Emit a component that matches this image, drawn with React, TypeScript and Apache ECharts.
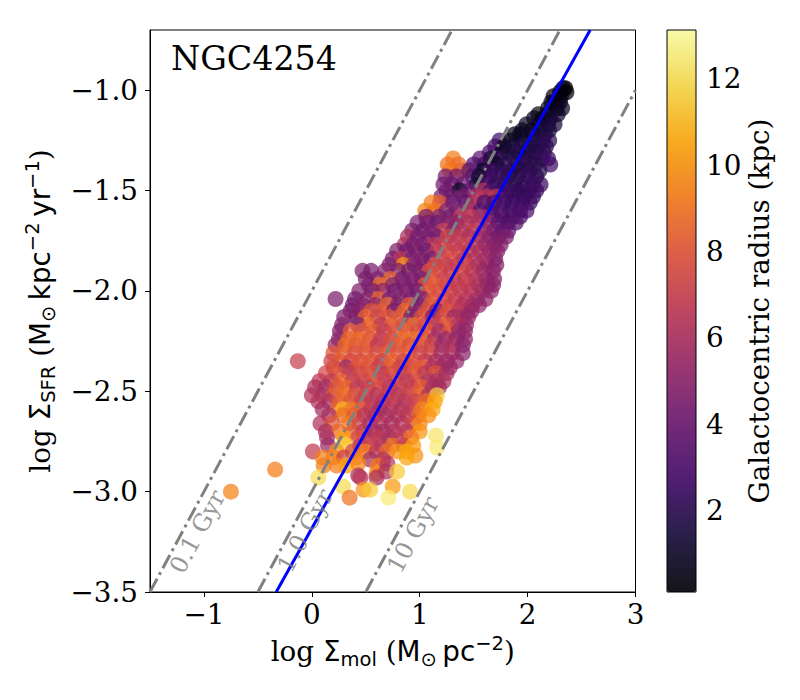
import React, { useEffect, useRef } from "react";
import * as echarts from "echarts";

// ---------- axis ranges & ticks ----------
const xRange = [-1.5, 3];
const yRange = [-3.5, -0.7];
const xTicks = [-1, 0, 1, 2, 3];
const yTicks = [-3.5, -3, -2.5, -2, -1.5, -1];
const radiusRange = [0.12, 13.13];
const cbarTicks = [2, 4, 6, 8, 10, 12];

// ---------- reference lines (depletion times) and fit ----------
const tau01Line = [[-1.5, -3.5], [1.3, -0.7]];
const tau1Line = [[-0.5, -3.5], [2.3, -0.7]];
const tau10Line = [[0.5, -3.5], [3.0, -1.0]];
const fitLine = [[-0.33, -3.5], [2.58, -0.7]];
const tauLabels = [
  [-1.06, -3.20, "0.1 Gyr"],
  [-0.06, -3.195, "1.0 Gyr"],
  [0.94, -3.215, "10 Gyr"],
];

// ---------- cells: [log Σmol, log ΣSFR, radius kpc] ----------
const upperCells = [
  [2.33,-0.99,0.3],[2.35,-0.99,0.2],
  [2.30,-1.01,0.3],[2.36,-1.01,0.3],
  [2.24,-1.03,0.4],[2.31,-1.03,0.4],
  [2.22,-1.06,0.5],[2.26,-1.06,0.4],[2.30,-1.06,0.5],
  [2.19,-1.09,0.6],[2.27,-1.09,0.6],[2.32,-1.09,0.9],
  [2.10,-1.12,0.7],[2.18,-1.12,0.6],[2.28,-1.12,1.0],
  [2.06,-1.14,0.7],[2.14,-1.14,0.6],[2.21,-1.14,1.1],
  [1.99,-1.17,0.9],[2.11,-1.17,0.8],[2.19,-1.17,1.2],[2.25,-1.17,1.6],
  [1.95,-1.20,0.8],[2.04,-1.20,0.6],[2.12,-1.20,1.1],[2.20,-1.20,1.7],
  [1.88,-1.22,0.6],[1.93,-1.22,0.8],[2.05,-1.22,1.3],[2.16,-1.22,1.5],
  [1.74,-1.25,2.8],[1.84,-1.25,0.7],[1.96,-1.25,1.0],[2.06,-1.25,1.6],[2.14,-1.25,1.8],[2.20,-1.25,2.0],
  [1.70,-1.28,2.6],[1.78,-1.28,0.9],[1.86,-1.28,1.3],[1.94,-1.28,1.7],[2.02,-1.28,1.6],[2.10,-1.28,1.8],[2.17,-1.28,2.1],
  [1.65,-1.31,3.0],[1.76,-1.31,1.0],[1.82,-1.31,1.4],[1.91,-1.31,1.9],[1.99,-1.31,1.7],[2.07,-1.31,1.6],[2.15,-1.31,2.0],
  [1.31,-1.34,9.3],[1.56,-1.34,3.6],[1.66,-1.34,1.2],[1.73,-1.34,2.2],[1.87,-1.34,1.6],[1.96,-1.34,1.4],[2.04,-1.34,1.9],[2.13,-1.34,2.2],[2.19,-1.34,2.5],
  [1.26,-1.37,9.0],[1.36,-1.37,8.8],[1.50,-1.37,3.2],[1.60,-1.37,2.4],[1.71,-1.37,0.9],[1.79,-1.37,2.0],[1.90,-1.37,1.8],[1.98,-1.37,2.1],[2.07,-1.37,1.8],[2.21,-1.37,2.7],
  [1.28,-1.40,9.2],[1.39,-1.40,8.5],[1.46,-1.40,3.4],[1.59,-1.40,1.0],[1.66,-1.40,2.6],[1.76,-1.40,1.9],[1.85,-1.40,2.2],[1.94,-1.40,1.7],[2.02,-1.40,2.0],[2.11,-1.40,1.9],
  [1.24,-1.43,4.4],[1.34,-1.43,4.2],[1.49,-1.43,3.5],[1.55,-1.43,1.2],[1.65,-1.43,2.3],[1.72,-1.43,2.5],[1.82,-1.43,2.0],[1.91,-1.43,1.9],[2.00,-1.43,2.3],[2.08,-1.43,2.2],
  [1.22,-1.47,4.3],[1.30,-1.47,4.0],[1.40,-1.47,3.8],[1.53,-1.47,1.3],[1.61,-1.47,2.8],[1.70,-1.47,2.2],[1.79,-1.47,2.4],[1.88,-1.47,2.0],[1.96,-1.47,2.1],[2.05,-1.47,2.4],[2.12,-1.47,2.3],
  [1.25,-1.50,4.2],[1.37,-1.50,0.8],[1.46,-1.50,3.7],[1.59,-1.50,6.4],[1.66,-1.50,2.9],[1.75,-1.50,2.3],[1.84,-1.50,2.5],[1.92,-1.50,2.1],[2.01,-1.50,2.3],[2.08,-1.50,2.6],
  [1.20,-1.53,4.3],[1.29,-1.53,4.1],[1.40,-1.53,4.4],[1.52,-1.53,6.2],[1.62,-1.53,6.5],[1.71,-1.53,6.8],[1.80,-1.53,2.6],[1.89,-1.53,2.4],[1.97,-1.53,2.2],[2.05,-1.53,2.5],
  [1.11,-1.56,9.4],[1.19,-1.56,8.3],[1.31,-1.56,4.0],[1.43,-1.56,3.6],[1.50,-1.56,6.2],[1.60,-1.56,3.0],[1.69,-1.56,3.0],[1.78,-1.56,2.7],[1.86,-1.56,2.4],[1.95,-1.56,2.6],[2.02,-1.56,2.5],
  [1.05,-1.60,9.5],[1.14,-1.60,9.0],[1.25,-1.60,4.5],[1.35,-1.60,4.6],[1.46,-1.60,6.0],[1.56,-1.60,3.2],[1.66,-1.60,2.9],[1.75,-1.60,3.0],[1.84,-1.60,2.6],[1.93,-1.60,2.8],[1.99,-1.60,2.9],
];

const middleCells = [
  [1.06,-1.63,4.4],[1.18,-1.63,4.6],[1.28,-1.63,4.3],[1.38,-1.63,6.6],[1.48,-1.63,6.8],[1.58,-1.63,5.8],[1.68,-1.63,3.2],[1.77,-1.63,3.3],[1.86,-1.63,2.9],[1.93,-1.63,3.0],
  [0.98,-1.66,4.5],[1.07,-1.66,4.4],[1.16,-1.66,4.0],[1.26,-1.66,4.9],[1.34,-1.66,5.0],[1.44,-1.66,6.1],[1.54,-1.66,6.0],[1.64,-1.66,5.5],[1.73,-1.66,3.3],[1.82,-1.66,3.0],[1.89,-1.66,3.3],
  [0.93,-1.70,4.6],[1.03,-1.70,4.0],[1.12,-1.70,4.5],[1.22,-1.70,7.0],[1.31,-1.70,4.8],[1.40,-1.70,6.3],[1.50,-1.70,6.9],[1.60,-1.70,5.2],[1.69,-1.70,4.5],[1.77,-1.70,3.5],[1.82,-1.70,3.7],
  [0.89,-1.73,6.0],[0.98,-1.73,4.4],[1.07,-1.73,4.6],[1.16,-1.73,4.2],[1.26,-1.73,7.2],[1.36,-1.73,6.8],[1.46,-1.73,6.0],[1.56,-1.73,5.6],[1.65,-1.73,4.9],[1.73,-1.73,4.2],[1.80,-1.73,4.6],
  [0.86,-1.77,6.2],[0.94,-1.77,4.3],[1.03,-1.77,4.5],[1.13,-1.77,6.5],[1.23,-1.77,7.0],[1.32,-1.77,6.6],[1.42,-1.77,7.1],[1.52,-1.77,6.4],[1.61,-1.77,5.3],[1.69,-1.77,4.8],[1.75,-1.77,4.7],
  [0.79,-1.80,4.5],[0.88,-1.80,4.2],[0.97,-1.80,4.6],[1.06,-1.80,4.0],[1.16,-1.80,6.8],[1.26,-1.80,7.4],[1.36,-1.80,6.9],[1.46,-1.80,6.5],[1.56,-1.80,6.0],[1.65,-1.80,5.4],[1.72,-1.80,4.9],
  [0.75,-1.84,4.4],[0.82,-1.84,6.6],[0.93,-1.84,4.4],[1.02,-1.84,4.8],[1.11,-1.84,4.3],[1.21,-1.84,7.3],[1.31,-1.84,7.8],[1.41,-1.84,6.7],[1.51,-1.84,6.2],[1.61,-1.84,5.8],[1.70,-1.84,5.0],
  [0.72,-1.87,4.6],[0.85,-1.87,9.8],[0.95,-1.87,4.7],[1.04,-1.87,4.5],[1.14,-1.87,7.6],[1.24,-1.87,7.0],[1.34,-1.87,6.8],[1.44,-1.87,7.2],[1.54,-1.87,6.1],[1.63,-1.87,5.6],[1.71,-1.87,4.7],
  [0.47,-1.90,4.6],[0.55,-1.90,4.4],[0.68,-1.90,4.8],[0.80,-1.90,4.5],[0.90,-1.90,4.2],[1.00,-1.90,4.6],[1.09,-1.90,7.8],[1.19,-1.90,7.4],[1.29,-1.90,6.9],[1.39,-1.90,7.5],[1.49,-1.90,6.6],[1.59,-1.90,5.5],[1.68,-1.90,5.0],
  [0.50,-1.94,4.5],[0.61,-1.94,4.7],[0.73,-1.94,8.6],[0.84,-1.94,4.4],[0.93,-1.94,4.8],[1.02,-1.94,4.3],[1.12,-1.94,8.0],[1.22,-1.94,7.1],[1.32,-1.94,7.7],[1.42,-1.94,6.8],[1.52,-1.94,6.3],[1.62,-1.94,5.4],[1.69,-1.94,4.9],
  [0.53,-1.97,4.4],[0.63,-1.97,8.8],[0.75,-1.97,4.6],[0.86,-1.97,4.5],[0.96,-1.97,4.7],[1.05,-1.97,7.9],[1.15,-1.97,8.3],[1.25,-1.97,7.3],[1.35,-1.97,6.7],[1.45,-1.97,7.0],[1.55,-1.97,6.0],[1.63,-1.97,5.2],[1.68,-1.97,5.0],
  [0.44,-2.00,4.7],[0.56,-2.00,4.5],[0.66,-2.00,4.9],[0.77,-2.00,4.3],[0.88,-2.00,4.6],[0.98,-2.00,4.4],[1.08,-2.00,8.1],[1.18,-2.00,7.8],[1.28,-2.00,7.2],[1.38,-2.00,6.9],[1.48,-2.00,6.4],[1.58,-2.00,5.8],[1.66,-2.00,5.1],
  [0.22,-2.04,4.6],[0.40,-2.04,4.4],[0.52,-2.04,4.8],[0.62,-2.04,8.6],[0.72,-2.04,4.6],[0.82,-2.04,4.7],[0.92,-2.04,4.3],[1.03,-2.04,4.5],[1.13,-2.04,7.9],[1.23,-2.04,7.4],[1.33,-2.04,7.0],[1.43,-2.04,6.5],[1.53,-2.04,5.9],[1.61,-2.04,5.3],
  [0.38,-2.07,4.3],[0.47,-2.07,4.8],[0.59,-2.07,4.7],[0.70,-2.07,8.4],[0.80,-2.07,4.6],[0.90,-2.07,8.3],[1.00,-2.07,4.4],[1.10,-2.07,8.2],[1.20,-2.07,7.6],[1.30,-2.07,7.1],[1.40,-2.07,6.2],[1.49,-2.07,5.8],[1.55,-2.07,5.2],
  [0.36,-2.10,4.4],[0.45,-2.10,4.9],[0.55,-2.10,8.0],[0.65,-2.10,8.2],[0.76,-2.10,4.5],[0.86,-2.10,8.6],[0.96,-2.10,4.6],[1.06,-2.10,7.8],[1.16,-2.10,4.8],[1.26,-2.10,7.9],[1.36,-2.10,6.8],[1.44,-2.10,6.3],[1.48,-2.10,5.4],
  [0.30,-2.13,4.6],[0.41,-2.13,4.7],[0.50,-2.13,8.5],[0.61,-2.13,7.2],[0.71,-2.13,8.0],[0.82,-2.13,8.3],[0.92,-2.13,4.5],[1.02,-2.13,8.1],[1.12,-2.13,4.7],[1.22,-2.13,7.7],[1.32,-2.13,5.6],[1.40,-2.13,6.0],[1.45,-2.13,5.3],
  [0.28,-2.17,4.8],[0.43,-2.17,4.6],[0.54,-2.17,8.7],[0.64,-2.17,6.6],[0.74,-2.17,8.4],[0.85,-2.17,7.6],[0.95,-2.17,8.9],[1.05,-2.17,7.5],[1.15,-2.17,7.0],[1.25,-2.17,8.2],[1.35,-2.17,6.4],[1.43,-2.17,5.5],
  [0.26,-2.20,4.7],[0.36,-2.20,8.3],[0.46,-2.20,8.0],[0.57,-2.20,8.2],[0.67,-2.20,6.8],[0.77,-2.20,7.9],[0.88,-2.20,8.3],[0.98,-2.20,7.4],[1.08,-2.20,8.0],[1.18,-2.20,5.7],[1.28,-2.20,8.0],[1.36,-2.20,5.4],[1.42,-2.20,5.2],
  [0.25,-2.24,5.0],[0.34,-2.24,8.6],[0.44,-2.24,8.8],[0.54,-2.24,8.1],[0.64,-2.24,7.0],[0.74,-2.24,7.8],[0.84,-2.24,8.7],[0.94,-2.24,9.0],[1.04,-2.24,8.1],[1.14,-2.24,5.9],[1.24,-2.24,5.4],[1.34,-2.24,5.2],[1.42,-2.24,5.3],
  [0.22,-2.27,5.3],[0.31,-2.27,8.7],[0.41,-2.27,8.2],[0.51,-2.27,8.3],[0.61,-2.27,6.6],[0.71,-2.27,7.5],[0.81,-2.27,8.2],[0.91,-2.27,7.8],[1.01,-2.27,8.0],[1.11,-2.27,7.2],[1.21,-2.27,5.6],[1.31,-2.27,6.1],[1.40,-2.27,5.0],
  [0.20,-2.31,8.0],[0.30,-2.31,8.4],[0.40,-2.31,7.8],[0.50,-2.31,8.0],[0.60,-2.31,7.7],[0.70,-2.31,8.2],[0.80,-2.31,7.9],[0.90,-2.31,8.4],[1.00,-2.31,7.1],[1.10,-2.31,7.4],[1.20,-2.31,5.8],[1.30,-2.31,6.2],[1.40,-2.31,5.0],
];

const lowerCells = [
  [0.18,-2.35,7.4],[0.26,-2.35,8.2],[0.36,-2.35,7.6],[0.45,-2.35,7.8],[0.55,-2.35,8.1],[0.65,-2.35,7.3],[0.75,-2.35,8.5],[0.85,-2.35,7.5],[0.95,-2.35,7.9],[1.05,-2.35,6.8],[1.15,-2.35,6.0],[1.25,-2.35,5.6],[1.34,-2.35,5.4],
  [0.20,-2.38,7.6],[0.32,-2.38,5.6],[0.42,-2.38,8.0],[0.52,-2.38,8.0],[0.62,-2.38,7.0],[0.72,-2.38,8.3],[0.82,-2.38,7.2],[0.92,-2.38,7.6],[1.02,-2.38,8.4],[1.12,-2.38,6.3],[1.20,-2.38,5.8],[1.28,-2.38,5.5],
  [0.13,-2.41,7.4],[0.23,-2.41,8.0],[0.35,-2.41,6.8],[0.45,-2.41,7.5],[0.55,-2.41,7.9],[0.65,-2.41,6.6],[0.75,-2.41,7.8],[0.85,-2.41,6.9],[0.95,-2.41,8.1],[1.05,-2.41,6.5],[1.15,-2.41,7.9],[1.25,-2.41,5.7],
  [0.07,-2.45,6.5],[0.18,-2.45,6.8],[0.28,-2.45,8.5],[0.38,-2.45,7.0],[0.48,-2.45,7.2],[0.58,-2.45,8.0],[0.68,-2.45,6.9],[0.78,-2.45,7.4],[0.88,-2.45,6.5],[0.98,-2.45,7.7],[1.08,-2.45,6.2],[1.16,-2.45,5.9],[1.22,-2.45,6.1],
  [0.03,-2.48,6.2],[0.13,-2.48,5.8],[0.23,-2.48,8.0],[0.32,-2.48,8.6],[0.42,-2.48,6.6],[0.52,-2.48,6.9],[0.62,-2.48,7.6],[0.72,-2.48,6.5],[0.82,-2.48,7.2],[0.92,-2.48,6.8],[1.02,-2.48,8.3],[1.12,-2.48,6.0],[1.18,-2.48,5.8],
  [0.00,-2.52,6.3],[0.10,-2.52,6.0],[0.20,-2.52,8.2],[0.30,-2.52,8.8],[0.40,-2.52,7.9],[0.50,-2.52,7.3],[0.60,-2.52,6.5],[0.70,-2.52,7.1],[0.80,-2.52,6.3],[0.90,-2.52,7.4],[1.00,-2.52,8.6],[1.08,-2.52,6.2],[1.16,-2.52,11.6],
  [0.06,-2.55,6.4],[0.16,-2.55,6.1],[0.26,-2.55,8.4],[0.36,-2.55,8.0],[0.46,-2.55,7.0],[0.56,-2.55,6.6],[0.66,-2.55,6.2],[0.76,-2.55,6.8],[0.86,-2.55,6.4],[0.96,-2.55,7.0],[1.06,-2.55,8.8],[1.14,-2.55,10.4],
  [0.10,-2.59,5.8],[0.24,-2.59,8.5],[0.29,-2.59,11.0],[0.38,-2.59,9.0],[0.47,-2.59,8.2],[0.55,-2.59,6.7],[0.63,-2.59,6.0],[0.73,-2.59,6.5],[0.83,-2.59,6.1],[0.93,-2.59,6.9],[1.02,-2.59,9.5],[1.12,-2.59,10.6],
  [0.16,-2.62,6.0],[0.29,-2.62,8.8],[0.39,-2.62,8.3],[0.49,-2.62,6.4],[0.59,-2.62,6.2],[0.69,-2.62,5.8],[0.79,-2.62,6.4],[0.89,-2.62,6.6],[0.99,-2.62,8.9],[1.08,-2.62,9.9],
  [0.08,-2.66,6.2],[0.19,-2.66,8.0],[0.34,-2.66,9.2],[0.44,-2.66,7.1],[0.54,-2.66,6.0],[0.64,-2.66,6.5],[0.74,-2.66,5.9],[0.84,-2.66,6.2],[0.94,-2.66,7.5],[1.00,-2.66,9.6],
  [0.13,-2.70,6.1],[0.25,-2.70,8.7],[0.38,-2.70,8.0],[0.48,-2.70,6.6],[0.58,-2.70,5.9],[0.66,-2.70,5.7],[0.76,-2.70,6.3],[0.88,-2.70,6.5],[1.00,-2.70,10.1],[1.15,-2.72,12.3],
  [0.14,-2.73,6.0],[0.30,-2.73,10.5],[0.43,-2.73,7.8],[0.53,-2.73,6.1],[0.62,-2.73,6.8],[0.72,-2.73,6.0],[0.82,-2.73,6.7],[0.92,-2.73,9.2],
  [0.15,-2.77,5.5],[0.32,-2.77,11.5],[0.45,-2.77,6.5],[0.55,-2.77,7.2],[0.65,-2.77,6.3],[0.75,-2.77,9.0],[0.85,-2.77,6.9],[0.94,-2.77,10.2],[1.16,-2.78,12.4],
  [0.01,-2.80,6.8],[0.23,-2.80,10.0],[0.38,-2.80,7.4],[0.50,-2.80,9.4],[0.60,-2.80,6.6],[0.70,-2.80,8.7],[0.80,-2.80,10.0],[0.88,-2.80,10.6],
  [0.10,-2.83,9.5],[0.20,-2.83,9.4],[0.30,-2.83,7.0],[0.41,-2.83,9.5],[0.54,-2.84,5.8],[0.66,-2.84,6.2],[0.96,-2.82,10.0],
  [0.11,-2.87,9.3],[0.23,-2.87,9.3],[0.32,-2.87,10.5],[0.43,-2.86,9.6],[0.61,-2.87,9.2],[0.70,-2.86,6.4],[0.88,-2.83,10.5],
  [0.06,-2.93,12.0],[0.43,-2.92,6.0],[0.60,-2.91,9.5],[0.69,-2.90,6.1],[0.79,-2.90,11.5],
  [0.29,-2.975,12.0],[0.45,-2.93,6.5],[0.60,-2.93,6.0],
  [0.48,-2.99,10.0],[0.54,-2.99,11.5],[0.75,-2.975,10.2],[0.91,-3.0,12.0],[0.35,-3.03,9.0],[0.71,-3.03,12.5],
];

const outlierCells = [
  [-0.75,-3.0,9.5],[-0.34,-2.89,9.3],[-0.13,-2.35,7.0],
];

const inferno = ["#000004", "#160b39", "#420a68", "#6a176e", "#932667", "#bc3754", "#dd513a", "#f37819", "#fca50a", "#f6d746", "#fcffa4"];
const markerAlpha = 0.9;

const SERIF = "'DejaVu Serif', serif";
const SANS = "'DejaVu Sans', sans-serif";
const FS = 27.8;

function withAlpha(hex: string, a: number) {
  const r = parseInt(hex.slice(1, 3), 16);
  const g = parseInt(hex.slice(3, 5), 16);
  const b = parseInt(hex.slice(5, 7), 16);
  return `rgba(${r},${g},${b},${a})`;
}
const minus = (s: string) => s.replace("-", "\u2212");

export default function App() {
  const ref = useRef<HTMLDivElement>(null);
  useEffect(() => {
    document.body.style.margin = "0";
    const chart = echarts.init(ref.current!, null, { renderer: "svg" });
    const cells = [...upperCells, ...middleCells, ...lowerCells, ...outlierCells];

    const rich = {
      s: { fontFamily: SERIF, fontSize: FS, lineHeight: 36, color: "#000" },
      m: { fontFamily: SANS, fontSize: FS, lineHeight: 36, color: "#000" },
      sub: { fontFamily: SANS, fontSize: 19.5, lineHeight: 19, color: "#000", verticalAlign: "bottom" },
      sup: { fontFamily: SANS, fontSize: 19.5, lineHeight: 19, color: "#000", verticalAlign: "top" },
    };

    const tickLabel = { fontFamily: SERIF, fontSize: FS, color: "#000" };
    const black = { color: "#000", width: 1 };
    const dashDot = { color: "#808080", width: 3, type: [15, 4.5, 3, 4.5] };

    const option: any = {
      animation: false,
      backgroundColor: "#fff",
      grid: [
        { left: 150, top: 30, width: 485.5, height: 562, show: true, borderColor: "#000", borderWidth: 1, backgroundColor: "transparent" },
        { left: 667, top: 30, width: 29, height: 562, show: false },
      ],
      xAxis: [
        {
          type: "value", gridIndex: 0, min: xRange[0], max: xRange[1],
          axisLine: { show: true, onZero: false, lineStyle: black },
          axisTick: { show: true, inside: false, length: 5, lineStyle: black, customValues: xTicks },
          axisLabel: { ...tickLabel, margin: 8, customValues: xTicks, formatter: (v: number) => minus(String(v)) },
          splitLine: { show: false },
          name: "{s|log }{m|\u03a3}{sub|mol}{s| (}{m|M}{sub|\u2299}{m|\u2009pc}{sup|\u22122}{s|)}",
          nameLocation: "middle", nameGap: 41,
          nameTextStyle: { rich },
        },
        { type: "value", gridIndex: 1, min: 0, max: 1, show: false },
      ],
      yAxis: [
        {
          type: "value", gridIndex: 0, min: yRange[0], max: yRange[1],
          axisLine: { show: true, onZero: false, lineStyle: black },
          axisTick: { show: true, inside: false, length: 5, lineStyle: black, customValues: yTicks },
          axisLabel: { ...tickLabel, margin: 12, customValues: yTicks, formatter: (v: number) => minus(v.toFixed(1)) },
          splitLine: { show: false },
          name: "{s|log }{m|\u03a3}{sub|SFR}{s| (}{m|M}{sub|\u2299}{m|\u2009kpc}{sup|\u22122}{m|\u2009yr}{sup|\u22121}{s|)}",
          nameLocation: "middle", nameRotate: 90, nameGap: 92,
          nameTextStyle: { rich },
        },
        {
          type: "value", gridIndex: 1, position: "right", min: radiusRange[0], max: radiusRange[1],
          axisLine: { show: false },
          axisTick: { show: true, inside: false, length: 5, lineStyle: black, customValues: cbarTicks },
          axisLabel: { ...tickLabel, margin: 10, customValues: cbarTicks },
          splitLine: { show: false },
          name: "Galactocentric radius (kpc)",
          nameLocation: "middle", nameRotate: 90, nameGap: 48,
          nameTextStyle: { fontFamily: SERIF, fontSize: FS, color: "#000" },
        },
      ],
      visualMap: {
        type: "continuous", seriesIndex: 0, dimension: 2,
        min: radiusRange[0], max: radiusRange[1],
        inRange: { color: inferno.map((c) => withAlpha(c, markerAlpha)) },
        orient: "vertical", left: 667, top: 30, itemWidth: 29, itemHeight: 562,
        calculable: false, hoverLink: false, padding: 0, text: null,
      },
      graphic: [
        {
          type: "text", x: 171, y: 58, z: 100,
          style: { text: "NGC4254", font: `33.3px ${SERIF}`, fill: "#000", align: "left", verticalAlign: "middle" },
        },
        {
          type: "rect", z: 100, silent: true,
          shape: { x: 667, y: 30, width: 29, height: 562 },
          style: { fill: "none", stroke: "#000", lineWidth: 1 },
        },
      ],
      series: [
        {
          type: "scatter", xAxisIndex: 0, yAxisIndex: 0, data: cells,
          symbolSize: 16, itemStyle: { borderWidth: 0 }, emphasis: { disabled: true }, z: 2,
        },
        { type: "line", data: tau01Line, symbol: "none", lineStyle: dashDot, z: 3, silent: true },
        { type: "line", data: tau1Line, symbol: "none", lineStyle: dashDot, z: 3, silent: true },
        { type: "line", data: tau10Line, symbol: "none", lineStyle: dashDot, z: 3, silent: true },
        { type: "line", data: fitLine, symbol: "none", lineStyle: { color: "#0000ff", width: 3 }, z: 4, silent: true },
        {
          type: "scatter", data: tauLabels, symbolSize: 1, itemStyle: { color: "rgba(0,0,0,0)" }, silent: true, z: 5,
          label: {
            show: true, position: "inside", rotate: 61.7,
            formatter: (p: any) => p.data[2],
            fontFamily: SERIF, fontSize: 24, color: "#7a7a7a",
          },
        },
      ],
    };
    chart.setOption(option);
    return () => chart.dispose();
  }, []);
  return <div ref={ref} style={{ position: "absolute", left: 0, top: 0, width: 800, height: 700 }} />;
}
